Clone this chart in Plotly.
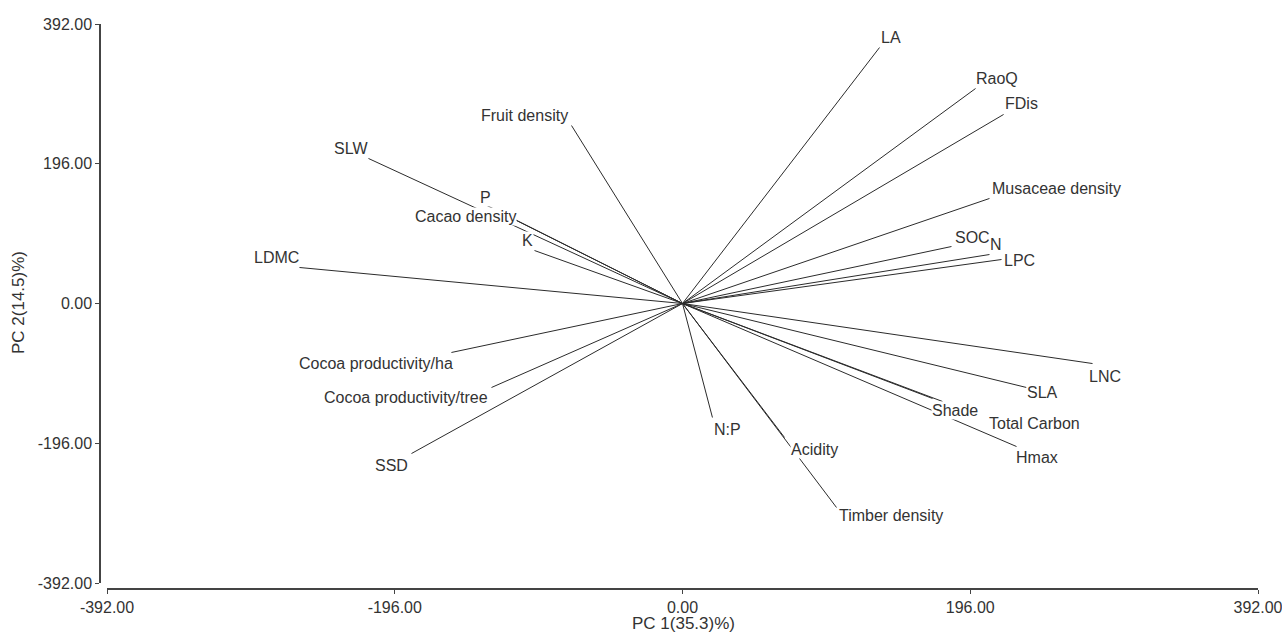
import plotly.graph_objects as go

# PCA biplot: variable loadings on PC1 / PC2
variables = [
    "LA", "RaoQ", "FDis", "Musaceae density", "SOC", "N", "LPC",
    "LNC", "SLA", "Shade", "Total Carbon", "Hmax", "Acidity",
    "Timber density", "N:P", "SSD", "Cocoa productivity/tree",
    "Cocoa productivity/ha", "LDMC", "K", "Cacao density", "P", "SLW",
    "Fruit density",
]
pc1 = [134.2, 199.6, 218.7, 209.1, 183.2, 209.1, 217.3,
       279.3, 234.3, 170.3, 177.1, 227.5, 69.5,
       104.9, 20.4, -184.6, -130.1,
       -157.4, -260.9, -100.8, -113.1, -134.2, -213.9,
       -75.6]
pc2 = [359.0, 301.5, 265.1, 147.3, 79.9, 68.7, 61.7,
       -84.2, -117.8, -133.2, -137.4, -200.6, -187.9,
       -286.1, -159.9, -210.4, -117.8,
       -68.7, 50.5, 74.3, 116.4, 138.5, 203.4,
       249.6]

# label anchor positions (data units)
label_x = [141.7, 213.9, 230.9, 254.8, 197.5, 213.2, 229.6,
           288.1, 245.2, 185.3, 239.8, 241.8, 89.9,
           141.7, 30.6, -198.2, -188.0,
           -209.1, -276.6, -105.6, -147.8, -134.2, -225.5,
           -107.6]
label_y = [373.1, 315.6, 280.5, 161.3, 92.6, 82.7, 60.3,
           -102.4, -124.8, -150.1, -168.3, -216.0, -204.8,
           -297.0, -176.7, -227.2, -131.8,
           -84.2, 64.5, 88.4, 122.0, 148.7, 217.4,
           263.7]

tick_vals = [-392, -196, 0, 196, 392]
tick_text = [f"{v:.2f}" for v in tick_vals]
x_title = "PC 1(35.3)%)"
y_title = "PC 2(14.5)%)"

FONT = "Liberation Sans, Arial, sans-serif"
TEXT = "#333333"

line_x, line_y = [], []
for x, y in zip(pc1, pc2):
    line_x += [0, x, None]
    line_y += [0, y, None]

fig = go.Figure()
fig.add_trace(go.Scatter(
    x=line_x, y=line_y, mode="lines",
    line=dict(color="#2b2b2b", width=1),
    hoverinfo="skip", showlegend=False,
))

for name, lx, ly in zip(variables, label_x, label_y):
    fig.add_annotation(
        x=lx, y=ly, xref="x", yref="y", text=name, showarrow=False,
        font=dict(family=FONT, size=16, color=TEXT),
        bgcolor="white", borderpad=0,
    )

W, H = 1282, 635
ml, mr, mt, mb = 100, 24, 24, 46
pw, ph = W - ml - mr, H - mt - mb

axis_common = dict(
    tickvals=tick_vals, ticktext=tick_text, ticks="outside", ticklen=4,
    tickcolor="#444444", showline=True, linecolor="#444444", linewidth=1.5,
    showgrid=False, zeroline=False, automargin=False,
    tickfont=dict(family=FONT, size=16, color=TEXT),
    range=[-392, 392], fixedrange=True, ticklabeloverflow="allow",
)

fig.update_layout(
    width=W, height=H,
    margin=dict(l=ml, r=mr, t=mt, b=mb, autoexpand=False),
    paper_bgcolor="white", plot_bgcolor="white",
    xaxis=dict(axis_common, domain=[7 / pw, 1], anchor="free", position=0),
    yaxis=dict(axis_common, domain=[6 / ph, 1], anchor="free", position=0),
    annotations=list(fig.layout.annotations) + [
        dict(text=x_title, xref="paper", yref="paper",
             x=(683 - ml) / pw, y=(H - mb - 623) / ph,
             showarrow=False, yanchor="middle",
             font=dict(family=FONT, size=17, color=TEXT)),
        dict(text=y_title, xref="paper", yref="paper",
             x=(18 - ml) / pw, y=(H - mb - 303) / ph,
             showarrow=False, textangle=-90, xanchor="center",
             font=dict(family=FONT, size=17, color=TEXT)),
    ],
)

fig.write_html("out.html")
